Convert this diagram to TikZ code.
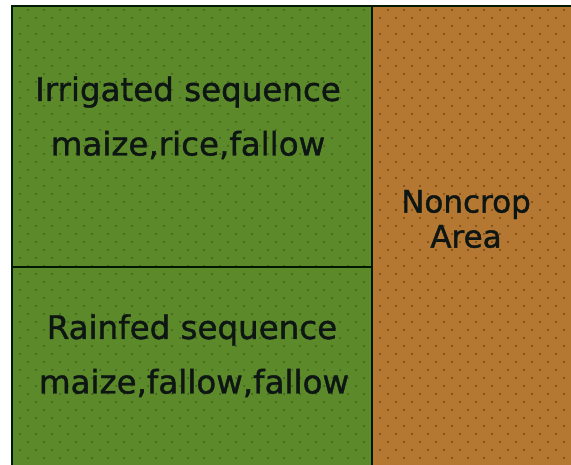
\documentclass[tikz,border=0pt]{standalone}
\usepackage{fontspec}
\setmainfont{DejaVu Sans}
\newfontface\heavyface{DejaVu Sans}[FakeBold=1.2]
\definecolor{fieldgreen}{RGB}{92,138,42}
\definecolor{fielddot}{RGB}{58,92,28}
\definecolor{soilbrown}{RGB}{180,120,50}
\definecolor{soildot}{RGB}{120,72,28}
\definecolor{inkdark}{RGB}{14,22,20}
\tikzset{
  label/.style={text=inkdark, font=\heavyface\fontsize{32.5}{38}\selectfont, inner sep=0pt},
  smalllabel/.style={text=inkdark, font=\heavyface\fontsize{31}{35}\selectfont, inner sep=0pt, align=center},
  border/.style={draw=black!90!green, line width=2.5pt}
}
\begin{document}
\begin{tikzpicture}[x=1pt,y=-1pt]
\useasboundingbox (0,0) rectangle (571,465);
\fill[white] (0,0) rectangle (571,465);
% cropped field and non-crop area
\fill[fieldgreen] (12,6) rectangle (372,465);
\fill[soilbrown] (372,6) rectangle (571,465);
% dotted texture
\begin{scope}
  \clip (12,6) rectangle (372,465);
  \foreach \r in {0,...,58} {
    \pgfmathsetmacro{\off}{mod(\r,2)*8}
    \foreach \c in {0,...,23} {
      \fill[fielddot] (12+\off+\c*16, 10+\r*8) circle (1.0);
    }
  }
\end{scope}
\begin{scope}
  \clip (372,6) rectangle (571,465);
  \foreach \r in {0,...,58} {
    \pgfmathsetmacro{\off}{mod(\r,2)*8}
    \foreach \c in {0,...,13} {
      \fill[soildot] (372+\off+\c*16, 10+\r*8) circle (1.1);
    }
  }
\end{scope}
% borders
\coordinate (tl) at (12,6);
\coordinate (tr) at (571,6);
\coordinate (bl) at (12,465);
\coordinate (vt) at (372,6);
\coordinate (vb) at (372,465);
\coordinate (hl) at (12,267);
\coordinate (hr) at (372,267);
\draw[border] (bl) -- (tl) -- (tr);
\draw[border] (vt) -- (vb);
\draw[border] (hl) -- (hr);
% labels
\node[label] (irr) at (188,92) {Irrigated sequence};
\node[label] (irrseq) at (188,145) {maize,rice,fallow};
\node[label] (rain) at (192,330) {Rainfed sequence};
\node[label] (rainseq) at (194,383) {maize,fallow,fallow};
\node[smalllabel] (non) at (466,219) {Noncrop\\Area};
\end{tikzpicture}
\end{document}
